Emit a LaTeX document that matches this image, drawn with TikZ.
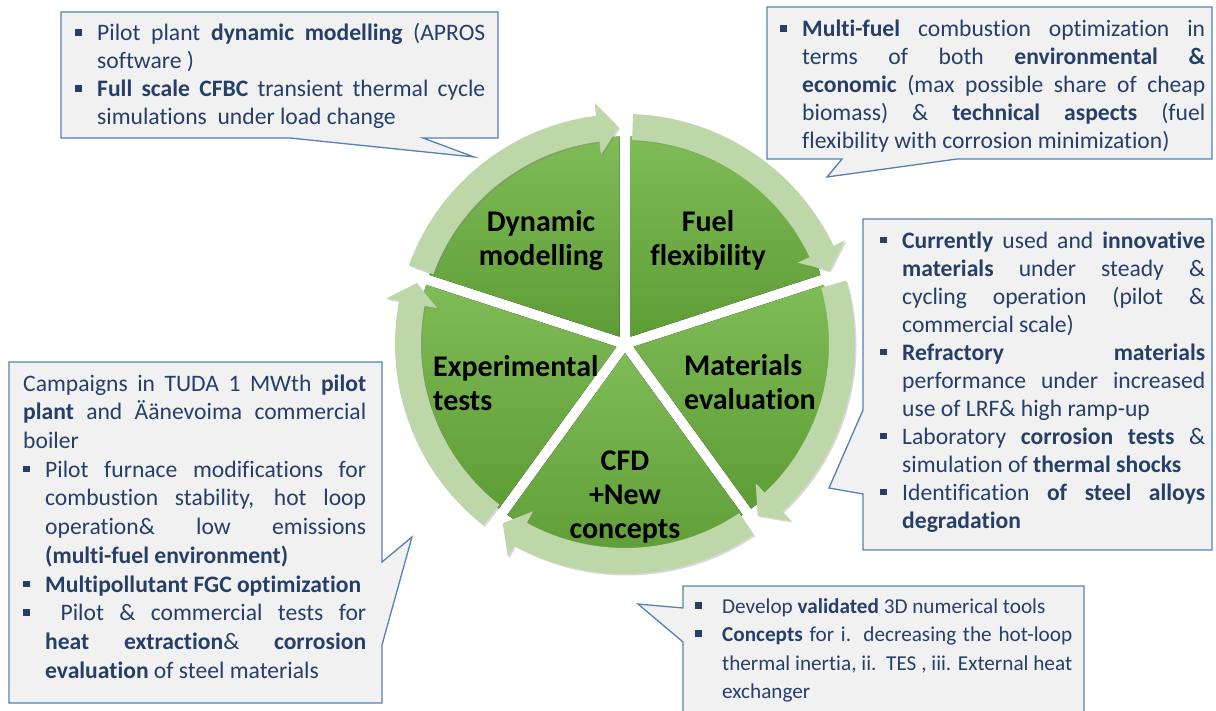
\documentclass[tikz,border=0pt]{standalone}
\usepackage{fontspec}
\setmainfont{Carlito}[Ligatures={NoCommon}]
\usepackage{tikz}
\usetikzlibrary{shadows}

\definecolor{notefill}{HTML}{F1F1F1}
\definecolor{noteline}{HTML}{5381B3}
\definecolor{notetext}{HTML}{263F69}
\definecolor{sectlight}{HTML}{7FBC57}
\definecolor{sectdark}{HTML}{5E9C36}
\definecolor{ringfill}{HTML}{BDD7A8}

% bullet items: \firstbul opens the first one, \bul every later one
\newcommand{\firstbul}[1][22pt]{\noindent\hangindent=#1\hangafter=1\makebox[#1][l]{\rule[5pt]{6.5pt}{6.5pt}}\strut\ignorespaces}
\newcommand{\bul}[1][22pt]{\par\firstbul[#1]}
\newcommand{\noteset}{\pretolerance=-1 \tolerance=10000 \hyphenpenalty=10000 \hbadness=10000 \relax}

\begin{document}
\begin{tikzpicture}[x=1pt,y=1pt,
    callout/.style={fill=notefill, draw=noteline, line width=1.3pt, line join=miter},
    notes/.style={anchor=north west, inner sep=0pt, align=justify, text=notetext, font=\fontsize{23.6}{28}\selectfont},
    sector/.style={inner sep=0pt, font=\fontsize{30}{34}\selectfont\bfseries}]
    \path[use as bounding box] (0,0) rectangle (1216,-711);
    \clip (0,0) rectangle (1216,-711);

    % pie of five exploded sectors
    \begin{scope}[shift={(625,-344)}]
        \foreach \a in {18,-54,-126,162,90} {
            \fill[shift={({\a+36}:9)}, top color=sectlight, bottom color=sectdark]
                (0,0) -- (\a:200) arc[start angle=\a, end angle=\a+72, radius=200] -- cycle;
        }
        % circular arrows round the pie
        \foreach \s/\t in {160/91.7, 88/19.7, 16/-52.3, -56/-124.3, -128/-196.3} {
            \pgfmathsetmacro\b{\t+5.5}
            \fill[ringfill, drop shadow={shadow xshift=1.5pt, shadow yshift=-1.5pt, opacity=0.3}]
                (\s:230) arc[start angle=\s, end angle=\b, radius=230]
                -- (\b:243) -- (\t:217) -- (\b:191) -- (\b:204)
                arc[start angle=\b, end angle=\s, radius=204] -- cycle;
        }
    \end{scope}

    \node[sector, align=center, anchor=north] (dyn) at (541,-207.9) {\strut Dynamic\\modelling};
    \node[sector, align=center, anchor=north] (fuel) at (708,-207.9) {\strut Fuel\\flexibility};
    \node[sector, align=left, anchor=north west] (exp) at (433,-352.9) {\strut Experimental\\tests};
    \node[sector, align=left, anchor=north west] (mat) at (684,-351.2) {\strut Materials\\evaluation};
    \node[sector, align=center, anchor=north] (cfd) at (625,-446.2) {\strut CFD\\+New\\concepts};

    % callouts
    \draw[callout] (61,-12) -- (498,-12) -- (498,-138) -- (423,-138) -- (474,-157)
        -- (290,-138) -- (61,-138) -- cycle;
    \draw[callout] (767,-7) -- (1212,-7) -- (1212,-159) -- (957,-159) -- (827,-177)
        -- (842,-159) -- (767,-159) -- cycle;
    \draw[callout] (863,-219) -- (1212,-219) -- (1212,-550) -- (863,-550) -- (863,-494)
        -- (829,-488) -- (863,-410) -- cycle;
    \draw[callout] (9,-362) -- (382,-362) -- (382,-562) -- (412,-537) -- (382,-645)
        -- (382,-703) -- (9,-703) -- cycle;
    \draw[callout] (683,-586) -- (1084,-586) -- (1084,-720) -- (683,-720) -- (683,-642)
        -- (638,-604) -- (683,-608) -- cycle;

    \node[notes, text width=410pt] (dyntext) at (75,-20.9) {\noteset
        \firstbul Pilot plant \textbf{dynamic modelling} (APROS\linebreak software )
        \bul \textbf{Full scale CFBC} transient thermal cycle\linebreak simulations\ \ under load change\par};
    \node[notes, text width=425pt] (fueltext) at (780,-16.9) {\noteset
        \firstbul \textbf{Multi-fuel} combustion optimization in\linebreak terms of both \textbf{environmental \&}\linebreak
        \textbf{economic} (max possible share of cheap\linebreak biomass) \& \textbf{technical aspects} (fuel\linebreak
        flexibility with corrosion minimization)\par};
    \node[notes, text width=325pt] (mattext) at (880,-228.5) {\noteset
        \firstbul \textbf{Currently} used and \textbf{innovative}\linebreak \textbf{materials} under steady \&\linebreak
        cycling operation (pilot \&\linebreak commercial scale)
        \bul \textbf{Refractory materials}\linebreak performance under increased\linebreak use of LRF\& high ramp-up
        \bul Laboratory \textbf{corrosion tests} \&\linebreak simulation of \textbf{thermal shocks}
        \bul Identification \textbf{of steel alloys}\linebreak \textbf{degradation}\par};
    \node[notes, text width=343pt, font=\fontsize{23.6}{28.7}\selectfont] (exptext) at (23,-370.9) {\noteset
        \noindent\strut Campaigns in TUDA 1 MWth \textbf{pilot}\linebreak \textbf{plant} and Äänevoima commercial\linebreak boiler
        \bul Pilot furnace modifications for\linebreak combustion stability, hot loop\linebreak
        operation\& low emissions\linebreak \textbf{(multi-fuel environment)}
        \bul \mbox{\textbf{Multipollutant FGC optimization}}
        \bul \ Pilot \& commercial tests for\linebreak \textbf{heat extraction}\& \textbf{corrosion}\linebreak
        \textbf{evaluation} of steel materials\par};
    \node[notes, text width=377pt, font=\fontsize{21.2}{28.3}\selectfont] (cfdtext) at (695,-593.5) {\noteset
        \firstbul[27pt] Develop \textbf{validated} 3D numerical tools
        \bul[27pt] \textbf{Concepts} for i. decreasing the hot-loop\linebreak
        thermal inertia, ii.\ \ TES , iii. External heat\linebreak exchanger\par};
\end{tikzpicture}
\end{document}
